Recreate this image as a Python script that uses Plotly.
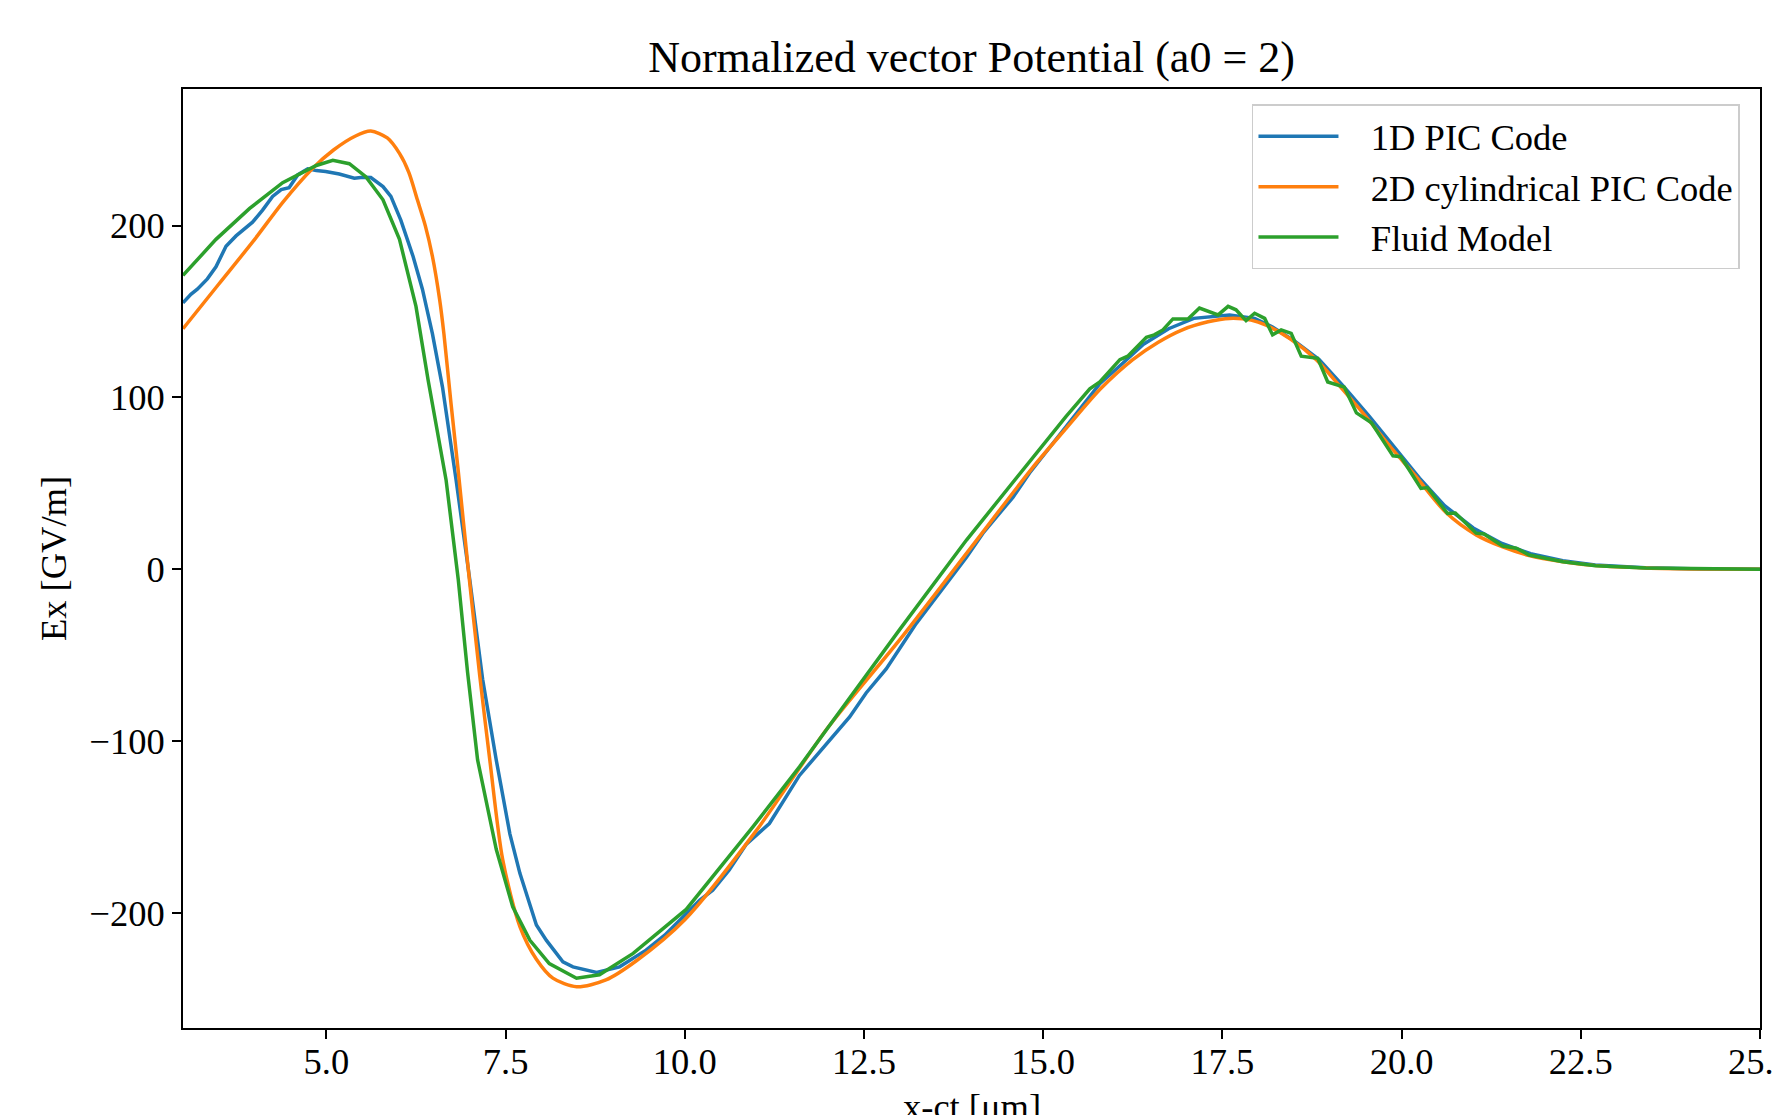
import plotly.graph_objects as go

# ---- data ----
x_1d = [3.0, 3.11, 3.2, 3.34, 3.46, 3.6, 3.74, 3.86, 3.97, 4.11, 4.25, 4.37, 4.48, 4.6, 4.74,
        4.86, 4.99, 5.18, 5.39, 5.51, 5.62, 5.79, 5.9, 6.04, 6.21, 6.34, 6.48, 6.62, 6.81, 7.0,
        7.18, 7.37, 7.56, 7.7, 7.93, 8.07, 8.3, 8.44, 8.77, 9.09, 9.46, 9.72, 9.93, 10.21, 10.39,
        10.62, 10.86, 11.18, 11.6, 11.85, 12.07, 12.3, 12.53, 12.81, 13.23, 13.65, 13.93, 14.16, 14.58, 14.81,
        15.32, 15.79, 16.06, 16.4, 16.75, 17.1, 17.6, 17.95, 18.2, 18.5, 18.85, 19.2, 19.55, 19.9,
        20.25, 20.6, 21.0, 21.4, 21.8, 22.25, 22.7, 23.4, 24.2, 25.0]
y_1d = [155, 160, 163, 169, 176, 188, 194, 198, 202, 209, 217, 221, 222, 229.5, 233,
        232, 231.5, 230, 227.6, 228.2, 228, 222.7, 217, 203, 182, 163, 137, 106, 52, -6,
        -64, -111, -154, -177, -207, -216, -228.5, -231.4, -234.7, -231.4, -221.7, -213, -204, -192.6, -186.8,
        -175, -160, -148, -120, -108, -97, -86, -72, -58, -31.5, -8, 7, 21, 42, 56,
        83, 108, 118, 131, 140, 146, 148, 146, 141, 133, 122, 106, 89, 71,
        53, 37, 24, 15, 9, 5, 2.5, 0.8, 0.1, 0]

x_2d = [3.0, 3.5, 4.0, 4.4, 4.8, 5.1, 5.4, 5.62, 5.85, 6.02, 6.15, 6.27, 6.38, 6.48, 6.58, 6.64,
        6.74, 6.84, 6.98, 7.14, 7.28, 7.46, 7.7, 7.93, 8.16, 8.49, 8.9, 9.32, 10.0, 11.0, 12.0,
        13.0, 14.0, 14.85, 15.32, 15.8, 16.25, 16.6, 16.95, 17.3, 17.6, 17.9, 18.11, 18.45,
        18.81, 19.15, 19.5, 19.85, 20.2, 20.62, 21.04, 21.41, 21.78, 22.25, 22.71, 23.4, 24.2, 25.0]
y_2d = [140, 166, 192, 214, 233, 244, 252, 255, 251, 242, 231, 215, 200, 182, 157, 137,
        96, 57, 0, -62, -111, -169, -208, -227, -238, -243, -239, -228, -204, -152, -92,
        -41, 13, 59, 82, 105, 122, 132, 139.5, 144, 146, 145, 142, 134,
        122, 106, 89, 71, 54, 33, 20, 13, 8, 4.4, 2.1, 0.7, 0.1, 0]

x_fl = [3.0, 3.46, 3.93, 4.39, 4.86, 5.09, 5.32, 5.55, 5.79, 6.02, 6.25, 6.42, 6.67, 6.84, 6.97,
        7.11, 7.37, 7.6, 7.84, 8.11, 8.49, 8.81, 9.28, 10.02, 10.95, 11.6, 12.07, 13.0, 13.93,
        14.39, 14.86, 15.32, 15.65, 15.79, 16.07, 16.18, 16.44, 16.55, 16.67, 16.81, 17.02, 17.18,
        17.44, 17.58, 17.69, 17.83, 17.95, 18.09, 18.2, 18.32, 18.46, 18.6, 18.83, 18.97, 19.2,
        19.37, 19.58, 19.88, 19.99, 20.27, 20.36, 20.64, 20.75, 21.04, 21.15, 21.41, 21.6, 21.78,
        22.25, 22.71, 23.41, 24.2, 25.0]
y_fl = [171, 192, 210, 225, 235, 238, 236, 228.5, 215, 192, 153, 110, 52, -6, -60,
        -111, -163, -196.5, -216, -229.5, -238, -236, -223.6, -198, -150, -115, -88, -35, 17,
        41, 65.5, 89, 105, 109, 122, 124, 135, 136.4, 139.3, 145.7, 145.7, 152,
        148, 153, 151, 144.7, 149, 146, 136.4, 139.3, 137.3, 124, 122.8, 109, 106,
        91, 85.3, 66, 65.5, 47, 47.5, 32.5, 32.7, 21, 20.5, 13.5, 12.2, 8.3,
        4.4, 2.1, 0.7, 0.1, 0]

names = ["1D PIC Code", "2D cylindrical PIC Code", "Fluid Model"]
colors = ["#1f77b4", "#ff7f0e", "#2ca02c"]
x_ticks = [5.0, 7.5, 10.0, 12.5, 15.0, 17.5, 20.0, 22.5, 25.0]
y_ticks = [-200, -100, 0, 100, 200]

FONT = "Liberation Serif, Times New Roman, serif"
PAD = "\u00a0\u00a0\u00a0"

fig = go.Figure()
fig.add_trace(go.Scatter(x=x_1d, y=y_1d, mode="lines", name=PAD + names[0],
                         line=dict(color=colors[0], width=3.5)))
fig.add_trace(go.Scatter(x=x_2d, y=y_2d, mode="lines", name=PAD + names[1],
                         line=dict(color=colors[1], width=3.5, shape="spline", smoothing=0.8)))
fig.add_trace(go.Scatter(x=x_fl, y=y_fl, mode="lines", name=PAD + names[2],
                         line=dict(color=colors[2], width=3.5)))

axis_common = dict(showline=True, linecolor="black", linewidth=2, mirror=True,
                   ticks="outside", ticklen=9, tickwidth=2, tickcolor="black",
                   showgrid=False, zeroline=False, automargin=False,
                   ticklabeloverflow="allow",
                   tickfont=dict(family=FONT, size=36.5, color="black"))

W, H = 1773, 1107
PLOT_H = H - 81 - 87
fig.update_layout(
    width=W, height=H,
    margin=dict(l=175, r=21, t=81, b=87),
    paper_bgcolor="white", plot_bgcolor="white",
    font=dict(family=FONT, size=36.5, color="black"),
    title=dict(text="Normalized vector Potential (a0 = 2)", x=(175 + (W - 21)) / 2 / W,
               xanchor="center", y=1 - 49 / H, yref="container", yanchor="middle",
               font=dict(family=FONT, size=44, color="black")),
    xaxis=dict(range=[3, 25], tickvals=x_ticks, ticktext=[f"{v:.1f}" for v in x_ticks],
               ticklabelstandoff=-9, **axis_common),
    yaxis=dict(range=[-267, 279.5], tickvals=y_ticks,
               ticktext=[("\u2212" + str(-v)) if v < 0 else str(v) for v in y_ticks],
               title=dict(text="Ex [GV/m]", standoff=12, font=dict(family=FONT, size=36.5)),
               **axis_common),
    legend=dict(x=0.9873, y=0.9835, xanchor="right", yanchor="top",
                bgcolor="white", bordercolor="#cccccc", borderwidth=1.5,
                font=dict(family=FONT, size=36.5, color="black"),
                itemwidth=80, tracegroupgap=0),
    showlegend=True,
    annotations=[dict(text="x-ct [μm]", xref="paper", yref="paper", x=0.5,
                      y=-78 / PLOT_H, xanchor="center", yanchor="middle",
                      showarrow=False, font=dict(family=FONT, size=36.5, color="black"))],
)

fig.write_html("out.html")
